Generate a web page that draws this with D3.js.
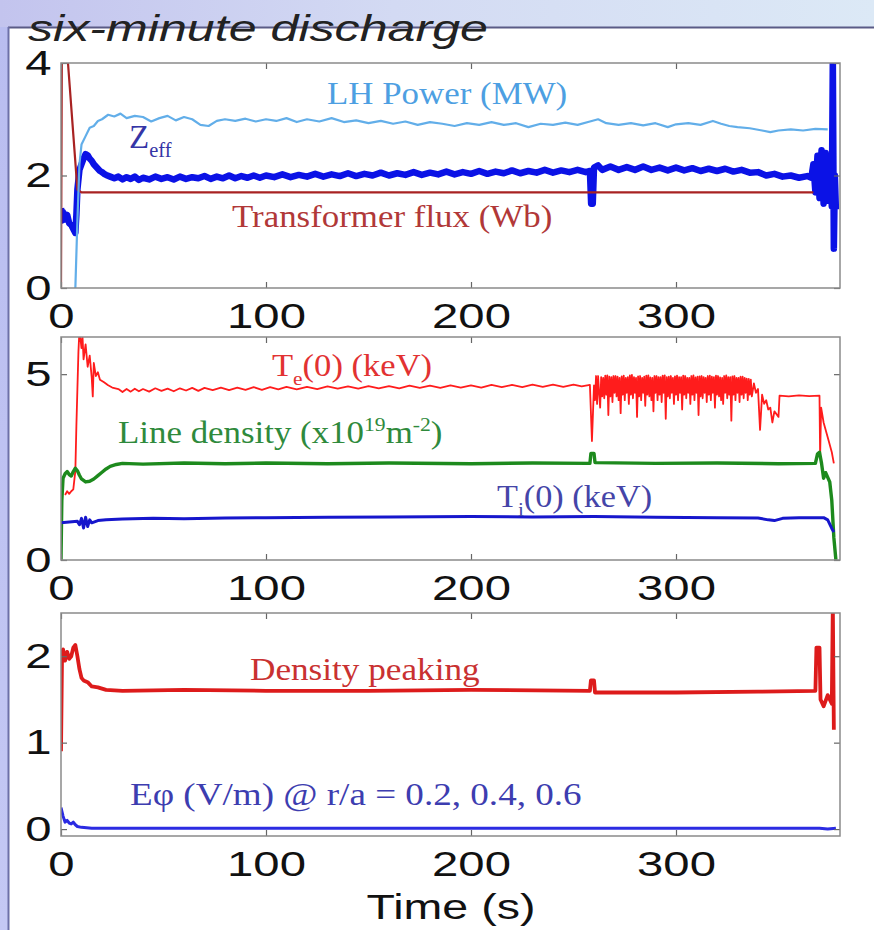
<!DOCTYPE html>
<html>
<head>
<meta charset="utf-8">
<script src="https://cdn.jsdelivr.net/npm/d3@7"></script>
<style>
  body { margin: 0; background: #fff; }
  svg { display: block; }
</style>
</head>
<body>
<div id="chart"></div>
<script>
// ---- data: [time (s), value] ----
const xTicks = [0, 100, 200, 300];
const yTicksTop = [0, 2, 4];
const yTicksMid = [0, 5];
const yTicksBot = [0, 1, 2];

const lhPower = [[7,0],[8,1.2],[9,2.2],[10,2.55],[12,2.7],[14,2.85],[16,2.88],[18,2.97],[20,3.0],[23,3.08],[26,3.05],[29,3.1],[32,3.02],[36,3.06],[40,3.04],[44,2.96],[48,3.02],[52,3.06],[56,2.98],[60,3.04],[64,3.0],[68,2.9],[72,2.88],[76,2.97],[80,3.0],[85,2.97],[90,3.01],[95,2.96],[100,3.0],[105,2.97],[110,3.02],[115,2.95],[120,3.0],[126,2.96],[132,3.02],[138,2.95],[144,2.98],[150,2.93],[156,2.97],[162,2.92],[168,2.96],[174,2.9],[180,2.95],[186,2.92],[192,2.88],[198,2.93],[204,2.9],[210,2.95],[216,2.9],[222,2.93],[228,2.86],[234,2.92],[240,2.9],[246,2.94],[252,2.9],[258,2.96],[262,3.0],[266,2.93],[272,2.9],[278,2.93],[284,2.89],[290,2.93],[296,2.86],[300,2.91],[306,2.93],[312,2.9],[318,2.97],[322,2.92],[326,2.88],[330,2.86],[336,2.84],[342,2.8],[346,2.77],[350,2.8],[356,2.82],[362,2.8],[368,2.83],[374,2.82]];

const zeff = [[0,1.42],[0.5,1.2],[1,1.35],[2,1.22],[3,1.3],[4,1.15],[5,1.12],[6,1.05],[7,0.98],[7.5,1.3],[8,1.75],[9,2.1],[10,2.2],[11,2.3],[12,2.38],[13,2.36],[14,2.3],[15,2.26],[16,2.2],[17,2.16],[18,2.12],[19,2.08],[20,2.06],[21,2.03],[22,2.01],[24,1.98],[26,1.95],[28,1.98],[30,1.93],[32,1.97],[34,1.94],[36,1.98],[38,1.92],[40,1.96],[43,1.93],[46,1.98],[49,1.94],[52,1.97],[55,1.93],[58,1.98],[61,1.94],[64,1.97],[67,1.95],[70,1.99],[73,1.94],[76,1.98],[79,1.95],[82,2.0],[85,1.95],[88,1.99],[91,1.96],[94,2.0],[97,1.96],[100,2.0],[104,1.97],[108,2.02],[112,1.97],[116,2.01],[120,1.98],[124,2.03],[128,1.98],[132,2.02],[136,1.99],[140,2.04],[144,1.99],[148,2.03],[152,2.0],[156,2.05],[160,2.0],[164,2.04],[168,2.01],[172,2.06],[176,2.01],[180,2.05],[184,2.02],[188,2.07],[192,2.02],[196,2.06],[200,2.03],[204,2.08],[208,2.03],[212,2.07],[216,2.04],[220,2.09],[224,2.04],[228,2.08],[232,2.05],[236,2.1],[240,2.05],[244,2.09],[248,2.06],[252,2.1],[256,2.06],[258,2.08],[258.6,1.5],[259.4,1.5],[260,2.14],[262,2.18],[264,2.1],[268,2.16],[272,2.1],[276,2.15],[280,2.1],[284,2.16],[288,2.1],[292,2.14],[296,2.09],[300,2.14],[304,2.09],[308,2.13],[312,2.08],[316,2.12],[320,2.08],[324,2.12],[328,2.07],[332,2.1],[336,2.05],[340,2.06],[344,2.0],[348,2.03],[352,1.98],[356,2.0],[360,1.96],[364,1.99],[366,1.96],[367,2.2],[368,1.7],[369,2.35],[370,1.6],[371,2.45],[372,1.5],[373,2.4],[374,1.55],[375,2.3],[376,1.45],[376.5,4.1],[377,0.7],[377.5,2.0],[378,1.4]];

const flux = [[0,0],[0.4,4.2],[3,4.2],[8,1.75],[10,1.7],[100,1.7],[200,1.7],[300,1.7],[367,1.7]];

const teCore = [[2,1.75],[3,1.85],[4,1.78],[5,1.85],[6,1.9],[7,2.4],[7.5,3.6],[8,4.6],[8.5,5.6],[9,6.2],[10,5.7],[10.5,6.0],[11,5.4],[12,5.8],[13,5.2],[14,5.5],[15,4.9],[15.5,4.4],[16,5.3],[17,4.95],[18,5.05],[19,4.85],[21,4.78],[23,4.7],[25,4.64],[28,4.6],[30,4.52],[32,4.6],[34,4.53],[36,4.61],[38,4.54],[40,4.6],[43,4.53],[46,4.62],[49,4.55],[52,4.61],[55,4.54],[58,4.62],[61,4.56],[64,4.63],[67,4.55],[70,4.63],[74,4.57],[78,4.64],[82,4.57],[86,4.64],[90,4.58],[94,4.65],[98,4.58],[102,4.65],[106,4.59],[110,4.66],[115,4.59],[120,4.66],[125,4.6],[130,4.67],[135,4.61],[140,4.67],[145,4.61],[150,4.68],[155,4.62],[160,4.68],[165,4.62],[170,4.69],[175,4.63],[180,4.69],[185,4.63],[190,4.7],[195,4.64],[200,4.7],[205,4.64],[210,4.71],[215,4.65],[220,4.71],[225,4.65],[230,4.72],[235,4.66],[240,4.72],[245,4.66],[250,4.72],[254,4.67],[258,4.71],[259,3.2],[260,4.7],[260.5,4.3],[261,4.95],[261.5,4.2],[262,4.95],[262.5,4.5],[263,4.1],[263.5,4.92],[264,4.4],[264.5,4.9],[265,4.35],[265.5,4.96],[266,4.45],[266.5,4.97],[267,3.9],[267.5,4.93],[268,4.4],[268.5,4.92],[269,4.25],[269.5,4.95],[270,4.5],[270.5,4.95],[271,4.4],[271.5,4.93],[272,4.3],[272.5,4.9],[273,3.95],[273.5,4.94],[274,4.45],[274.5,4.96],[275,4.3],[275.5,4.9],[276,4.5],[276.5,4.92],[277,4.2],[277.5,4.97],[278,4.45],[278.5,4.98],[279,4.35],[279.5,4.92],[280,4.5],[280.5,4.9],[281,3.85],[281.5,4.94],[282,4.4],[282.5,4.95],[283,4.3],[283.5,4.9],[284,4.5],[284.5,4.93],[285,4.15],[285.5,4.96],[286,4.45],[286.5,4.97],[287,4.4],[287.5,4.91],[288,4.3],[288.5,4.9],[289,4.0],[289.5,4.95],[290,4.5],[290.5,4.95],[291,4.3],[291.5,4.92],[292,4.45],[292.5,4.92],[293,4.25],[293.5,4.96],[294,4.5],[294.5,4.97],[295,3.8],[295.5,4.92],[296,4.4],[296.5,4.93],[297,4.35],[297.5,4.95],[298,4.5],[298.5,4.9],[299,4.2],[299.5,4.94],[300,4.45],[300.5,4.96],[301,4.3],[301.5,4.92],[302,4.5],[302.5,4.92],[303,4.05],[303.5,4.96],[304,4.45],[304.5,4.95],[305,4.35],[305.5,4.9],[306,4.5],[306.5,4.9],[307,4.2],[307.5,4.95],[308,4.45],[308.5,4.97],[309,4.3],[309.5,4.91],[310,4.5],[310.5,4.93],[311,3.9],[311.5,4.94],[312,4.4],[312.5,4.95],[313,4.35],[313.5,4.92],[314,4.5],[314.5,4.9],[315,4.25],[315.5,4.95],[316,4.45],[316.5,4.96],[317,4.3],[317.5,4.93],[318,4.5],[318.5,4.92],[319,4.1],[319.5,4.96],[320,4.45],[320.5,4.95],[321,4.4],[321.5,4.91],[322,4.3],[322.5,4.9],[323,4.2],[323.5,4.95],[324,4.5],[324.5,4.97],[325,4.35],[325.5,4.92],[326,4.45],[326.5,4.92],[327,3.75],[327.5,4.94],[328,4.45],[328.5,4.95],[329,4.3],[329.5,4.9],[330,4.5],[330.5,4.9],[331,4.25],[331.5,4.93],[332,4.45],[332.5,4.93],[333,4.35],[333.5,4.9],[334,4.5],[334.5,4.88],[335,4.3],[335.5,4.87],[336,4.45],[336.5,4.85],[337,4.4],[338,4.75],[339,4.5],[340,4.6],[341,3.5],[342,4.45],[343,4.2],[344,4.3],[345,4.05],[346,4.1],[347,3.7],[348,4.0],[350,3.85],[350.5,4.42],[355,4.4],[360,4.43],[365,4.41],[370,4.42],[370.3,2.8],[370.8,4.1],[372,3.7],[374,3.3],[376,2.9],[377,2.6]];

const lineDensity = [[0,0],[0.4,1.6],[1,2.2],[2,2.32],[3,2.38],[4,2.3],[5,2.26],[6,2.38],[7,2.47],[8,2.4],[9,2.28],[10,2.18],[12,2.1],[14,2.12],[16,2.18],[18,2.27],[20,2.36],[22,2.45],[24,2.52],[27,2.57],[30,2.6],[40,2.58],[60,2.61],[80,2.59],[100,2.61],[130,2.59],[160,2.61],[200,2.59],[230,2.61],[258,2.6],[258.5,2.87],[260,2.87],[260.5,2.62],[290,2.6],[320,2.61],[350,2.59],[368,2.6],[369,2.85],[370,2.9],[371,2.6],[372,2.2],[373,2.35],[375,2.1],[376,1.6],[377,0.6],[378,0]];

const tiCore = [[0,1.0],[4,1.02],[8,1.04],[9,0.95],[10,1.12],[11,0.86],[12,1.15],[13,0.9],[14,1.08],[15,1.0],[18,1.06],[22,1.08],[30,1.1],[45,1.12],[60,1.11],[80,1.13],[100,1.14],[130,1.15],[160,1.16],[200,1.17],[230,1.16],[260,1.17],[290,1.15],[320,1.14],[340,1.13],[345,1.08],[348,1.06],[352,1.12],[360,1.14],[372,1.14],[374,1.08],[376,0.85],[377,0.75]];

const densityPeaking = [[0,0.9],[0.5,2.0],[1,2.08],[2,1.95],[3,2.05],[4,1.97],[5,2.0],[6,2.1],[7,2.13],[8,2.0],[9,1.85],[10,1.75],[11,1.72],[13,1.7],[15,1.65],[18,1.64],[22,1.61],[30,1.6],[60,1.61],[100,1.6],[150,1.6],[200,1.61],[258,1.6],[258.5,1.72],[260,1.72],[260.5,1.58],[300,1.58],[340,1.59],[368,1.6],[368.5,2.1],[370,2.1],[370.5,1.5],[372,1.42],[374,1.55],[376,1.45],[376.5,2.6],[377,1.15]];

const ePhi = [[0,0.25],[1,0.15],[2,0.08],[3,0.1],[4,0.07],[5,0.06],[6,0.08],[7,0.05],[8,0.03],[10,0.02],[15,0.01],[100,0.01],[200,0.01],[300,0.01],[370,0.01],[374,0.0],[378,0.01]];

// ---- layout ----
const W = 874, H = 930;
const left = 61, right = 840;
const sans = 'Liberation Sans, Arial, sans-serif';
const serif = 'Liberation Serif, Times New Roman, serif';

const svg = d3.select('#chart').append('svg')
    .attr('width', W)
    .attr('height', H);

// slide background: bluish band on top and strip on the left
const defs = svg.append('defs');
const band = defs.append('linearGradient').attr('id', 'band');
band.append('stop').attr('offset', '0%').attr('stop-color', '#c3c4ee');
band.append('stop').attr('offset', '45%').attr('stop-color', '#d3daf3');
band.append('stop').attr('offset', '100%').attr('stop-color', '#dce9f6');
const strip = defs.append('linearGradient').attr('id', 'strip').attr('x2', 0).attr('y2', 1);
strip.append('stop').attr('offset', '0%').attr('stop-color', '#b9bdf0');
strip.append('stop').attr('offset', '100%').attr('stop-color', '#c4c8f4');

svg.append('rect').attr('width', W).attr('height', 27).attr('fill', 'url(#band)');
svg.append('rect').attr('y', 27).attr('width', 8).attr('height', H - 27).attr('fill', 'url(#strip)');
svg.append('line').attr('x1', 8).attr('x2', W).attr('y1', 27.5).attr('y2', 27.5)
    .attr('stroke', '#5a5b86').attr('stroke-width', 2);
svg.append('line').attr('x1', 8.5).attr('x2', 8.5).attr('y1', 27).attr('y2', H)
    .attr('stroke', '#6d70a8').attr('stroke-width', 2);

svg.append('text')
    .attr('x', 28).attr('y', 41)
    .attr('font-family', sans).attr('font-style', 'italic').attr('font-size', 37)
    .attr('fill', '#222')
    .attr('textLength', 460).attr('lengthAdjust', 'spacingAndGlyphs')
    .text('six-minute discharge');

const x = d3.scaleLinear().domain([0, 380]).range([left, right]);

const panels = [
    { top: 63, bottom: 288, domain: [0, 4], ticks: yTicksTop,
      series: [
        { data: zeff, color: '#0b12e6', width: 6.5 },
        { data: flux, color: '#a82222', width: 2.2 },
        { data: lhPower, color: '#62aee9', width: 2.2 }
      ] },
    { top: 337, bottom: 560, domain: [0, 6], ticks: yTicksMid,
      series: [
        { data: teCore, color: '#ff1c1c', width: 1.8 },
        { data: lineDensity, color: '#1d8a1d', width: 3.4 },
        { data: tiCore, color: '#1616cc', width: 3 }
      ] },
    { top: 613, bottom: 836, domain: [-0.08, 2.5], ticks: yTicksBot,
      series: [
        { data: densityPeaking, color: '#dd1b1b', width: 3.8 },
        { data: ePhi, color: '#2b2be2', width: 3 }
      ] }
];

const tickScale = 'scale(1.35,1)';

panels.forEach((p, i) => {
    const y = d3.scaleLinear().domain(p.domain).range([p.bottom, p.top]);
    const g = svg.append('g');

    g.append('clipPath').attr('id', `clip${i}`)
        .append('rect')
        .attr('x', left).attr('y', p.top)
        .attr('width', right - left).attr('height', p.bottom - p.top);

    const line = d3.line().x(d => x(d[0])).y(d => y(d[1]));
    g.append('g').attr('clip-path', `url(#clip${i})`)
        .selectAll('path')
        .data(p.series)
        .enter()
        .append('path')
        .attr('d', s => line(s.data))
        .attr('fill', 'none')
        .attr('stroke', s => s.color)
        .attr('stroke-width', s => s.width)
        .attr('stroke-linejoin', 'round');

    // bottom axis with labels, ticks pointing in
    const bottomAxis = g.append('g')
        .attr('transform', `translate(0,${p.bottom})`)
        .call(d3.axisBottom(x).tickValues(xTicks).tickSizeInner(-6).tickSizeOuter(0).tickPadding(15));
    // left axis with labels
    const leftAxis = g.append('g')
        .attr('transform', `translate(${left},0)`)
        .call(d3.axisLeft(y).tickValues(p.ticks).tickFormat(d3.format('d')).tickSizeInner(-6).tickSizeOuter(0).tickPadding(7));
    // top and right: ticks only
    const topAxis = g.append('g')
        .attr('transform', `translate(0,${p.top})`)
        .call(d3.axisTop(x).tickValues(xTicks).tickSizeInner(-6).tickSizeOuter(0).tickFormat(''));
    const rightAxis = g.append('g')
        .attr('transform', `translate(${right},0)`)
        .call(d3.axisRight(y).tickValues(p.ticks).tickSizeInner(-6).tickSizeOuter(0).tickFormat(''));

    [bottomAxis, leftAxis, topAxis, rightAxis].forEach(a => {
        a.select('.domain').remove();
        a.selectAll('line').attr('stroke', '#666').attr('stroke-width', 1.2);
        a.selectAll('text')
            .attr('font-family', sans).attr('font-size', 35).attr('fill', '#111')
            .attr('transform', tickScale);
    });

    g.append('rect')
        .attr('x', left).attr('y', p.top)
        .attr('width', right - left).attr('height', p.bottom - p.top)
        .attr('fill', 'none').attr('stroke', '#8a8a8a').attr('stroke-width', 1.5);
});

svg.append('text')
    .attr('transform', 'translate(451,919) scale(1.33,1)')
    .attr('text-anchor', 'middle')
    .attr('font-family', sans).attr('font-size', 35).attr('fill', '#111')
    .text('Time (s)');

// ---- in-plot labels (serif) ----
function label(px, py, parts, color, size, sx) {
    const t = svg.append('text')
        .attr('transform', `translate(${px},${py}) scale(${sx},1)`)
        .attr('font-family', serif).attr('font-size', size).attr('fill', color);
    parts.forEach(pt => {
        const ts = t.append('tspan').text(pt.s);
        if (pt.sub) ts.attr('font-size', size * 0.62).attr('dy', size * 0.28);
        if (pt.sup) ts.attr('font-size', size * 0.62).attr('dy', -size * 0.38);
        if (pt.back) ts.attr('dy', pt.back);
    });
    return t;
}

label(327, 104, [{ s: 'LH Power (MW)' }], '#4d9fe2', 32, 1.09);
label(129, 148, [{ s: 'Z' }, { s: 'eff', sub: true }], '#3535a6', 33, 1.0);
label(232, 227, [{ s: 'Transformer flux (Wb)' }], '#b13838', 32, 1.09);
label(272, 376, [{ s: 'T' }, { s: 'e', sub: true }, { s: '(0) (keV)', back: -32 * 0.28 }], '#e23232', 32, 1.08);
label(118, 443, [{ s: 'Line density (x10' }, { s: '19', sup: true }, { s: 'm', back: 32 * 0.38 }, { s: '-2', sup: true }, { s: ')', back: 32 * 0.38 }], '#2f8a3c', 32, 1.09);
label(497, 507, [{ s: 'T' }, { s: 'i', sub: true }, { s: '(0) (keV)', back: -32 * 0.28 }], '#4545a8', 32, 1.07);
label(250, 680, [{ s: 'Density peaking' }], '#c93131', 32, 1.1);
label(130, 805, [{ s: 'Eφ (V/m) @ r/a = 0.2, 0.4, 0.6' }], '#3d3db0', 32, 1.16);
</script>
</body>
</html>
